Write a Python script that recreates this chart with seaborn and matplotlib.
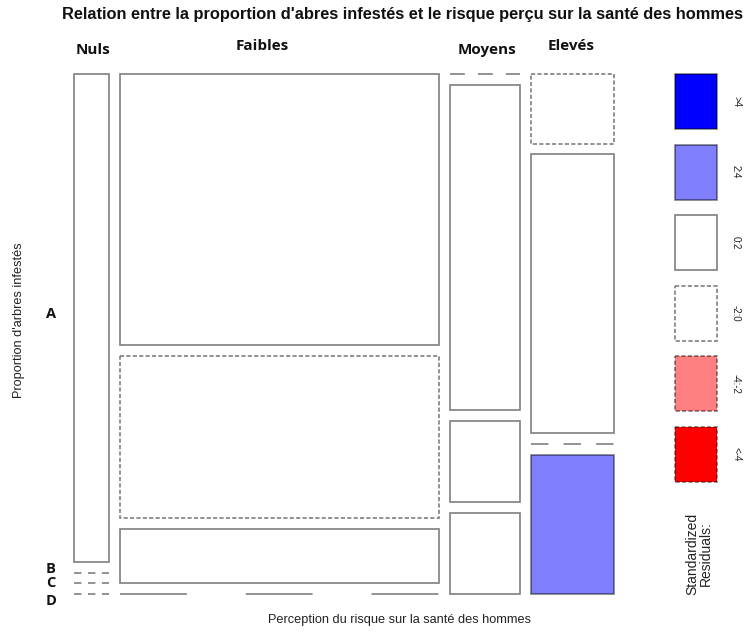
import numpy as np
import matplotlib
matplotlib.use("Agg")
import matplotlib.pyplot as plt
import seaborn as sns
from matplotlib.patches import Rectangle

# ---- data ----
perception = ["Nuls", "Faibles", "Moyens", "Elevés"]
proportion = ["A", "B", "C", "D"]
nuls = [3, 0, 0, 0]
faibles = [15, 9, 3, 0]
moyens = [0, 4, 1, 1]
eleves = [1, 4, 0, 2]
legend_labels = [">4", "2:4", "0:2", "-2:0", "-4:-2", "<-4"]

title = "Relation entre la proportion d'abres infestés et le risque perçu sur la santé des hommes"
xlabel = "Perception du risque sur la santé des hommes"
ylabel = "Proportion d'arbres infestés"

sns.set_theme(style="white")
plt.rcParams["lines.scale_dashes"] = False
plt.rcParams["font.family"] = ["Liberation Sans", "DejaVu Sans"]
LABEL_FONT = ["Open Sans", "DejaVu Sans"]

table = np.array([nuls, faibles, moyens, eleves], dtype=float)
N = table.sum()
expected = np.outer(table.sum(1), table.sum(0)) / N
resid = (table - expected) / np.sqrt(expected)

shade_cols = ["#FF0000", "#FF8080", "#FFFFFF", "#FFFFFF", "#8080FF", "#0000FF"]
edge = (0, 0, 0, 0.5)

FW, FH = 750, 632
fig = plt.figure(figsize=(FW / 100, FH / 100), dpi=100)
fig.patch.set_facecolor("white")

W, H = 540, 520
ax = fig.add_axes([74 / FW, (FH - 594) / FH, W / FW, H / FH])
ax.set_xlim(0, W)
ax.set_ylim(H, 0)
ax.axis("off")

gx = 11
gy = 32 / 3
avail_w = W - gx * (len(perception) - 1)
avail_h = H - gy * (len(proportion) - 1)

col_label_x = [93, 262, 487, 571]
col_label_y = [50, 46, 50, 46]
x0 = 0
for i, name in enumerate(perception):
    tot = table[i].sum()
    w = tot / N * avail_w
    y0 = 0
    for j in range(len(proportion)):
        cnt = table[i, j]
        r = resid[i, j]
        k = int(np.digitize(r, [-4, -2, 0, 2, 4]))
        dashed = k <= 2
        h = cnt / tot * avail_h
        if h > 0:
            rect = Rectangle((x0, y0), w, h, facecolor=shade_cols[k],
                             edgecolor=edge, linewidth=1.2,
                             linestyle=(0, (3, 1.6)) if dashed else "-",
                             clip_on=False)
            ax.add_patch(rect)
        else:
            on = 0.21 * w * 0.72
            off = 0.185 * w * 0.72
            ax.plot([x0, x0 + w], [y0, y0], color=edge, lw=1.2,
                    clip_on=False, dash_capstyle="butt",
                    linestyle=(0, (on, off)))
        y0 += h + gy
    fig.text(col_label_x[i] / FW, 1 - col_label_y[i] / FH, name,
             family=LABEL_FONT, fontweight="bold",
             fontsize=11, ha="center", va="center", color="#111111")
    x0 += w + gx

# row labels
row_y = [314, 569, 583, 601]
for lab, yy in zip(proportion, row_y):
    fig.text(51 / FW, 1 - yy / FH, lab, family=LABEL_FONT,
             fontweight="bold", fontsize=10.5, ha="center", va="center",
             color="#111111")

# legend
lax = fig.add_axes([675 / FW, (FH - 482) / FH, 42 / FW, 408 / FH])
lax.set_xlim(0, 42)
lax.set_ylim(408, 0)
lax.axis("off")
step = (408 - 55.3) / 5
for n, lab in enumerate(legend_labels):
    k = 5 - n
    yy = n * step
    lax.add_patch(Rectangle((0, yy), 42, 55.3, facecolor=shade_cols[k],
                            edgecolor=edge, linewidth=1.2,
                            linestyle=(0, (3, 1.6)) if k <= 2 else "-",
                            clip_on=False))
    fig.text(736 / FW, 1 - (74 + yy + 27.6) / FH, lab, rotation=-90,
             fontsize=7, ha="center", va="center", color="#222222")

fig.text(699 / FW, 1 - 554 / FH, "Standardized\nResiduals:", rotation=90,
         fontsize=10, ha="center", va="center", color="#222222",
         linespacing=0.95)

fig.text(402 / FW, 1 - 15 / FH, title, fontsize=11.8, fontweight="bold",
         ha="center", va="center", color="#111111")
fig.text(400 / FW, 1 - 620 / FH, xlabel, fontsize=9.2, ha="center",
         va="center", color="#222222")
fig.text(19 / FW, 1 - 320 / FH, ylabel, fontsize=9.2, rotation=90,
         ha="center", va="center", color="#222222")

fig.savefig("out.png", dpi=100, facecolor="white")
